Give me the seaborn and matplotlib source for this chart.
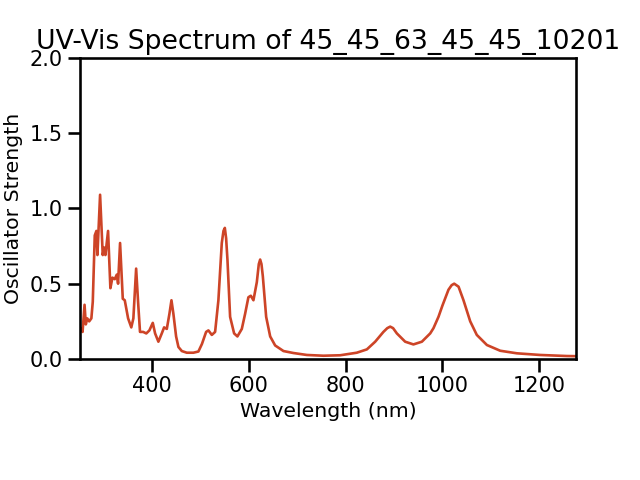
import numpy as np
import pandas as pd
import matplotlib
matplotlib.use("Agg")
import matplotlib.pyplot as plt
import seaborn as sns

wavelength = [251, 253.5, 256.3, 260.4, 263, 266, 270, 274.5, 277.4, 281.5, 284.9, 287,
              292.5, 298, 300.8, 303.5, 309, 313.8, 318, 322.8, 327, 329.7, 333.8,
              339.4, 343.5, 350.4, 357, 361.3, 367, 371, 375, 381.4, 388, 394.4, 401.4,
              406.2, 413, 420, 424.8, 430.4, 435.8, 440, 444, 449.6, 454.4, 461.4, 471.7,
              485.4, 495.7, 503, 511.6, 516.4, 523.4, 530.2, 537, 544, 547.5, 550.3, 553,
              555.7, 561.2, 569.5, 576.3, 585.4, 592.2, 599, 604, 609.4, 616.4, 620.5,
              623.3, 626, 628.8, 635.7, 644, 654.3, 671.5, 692, 719.8, 754, 788.6, 823,
              843.8, 861, 878, 886, 892, 898, 905.8, 923, 940, 957.5, 974.7, 981.5, 991.8,
              1000, 1012.5, 1019, 1024.3, 1033.3, 1043.5, 1057.4, 1071, 1091.9, 1119.4,
              1153.9, 1202, 1257, 1276]
strength = [0.21, 0.20, 0.18, 0.36, 0.23, 0.27, 0.25, 0.27, 0.38, 0.82, 0.85, 0.69,
            1.09, 0.69, 0.74, 0.69, 0.85, 0.47, 0.54, 0.53, 0.56, 0.50, 0.77,
            0.40, 0.39, 0.27, 0.21, 0.27, 0.60, 0.38, 0.18, 0.18, 0.17, 0.19, 0.24,
            0.17, 0.115, 0.17, 0.21, 0.20, 0.30, 0.39, 0.30, 0.15, 0.08, 0.053, 0.042,
            0.042, 0.05, 0.10, 0.18, 0.19, 0.16, 0.18, 0.39, 0.77, 0.85, 0.87, 0.80,
            0.66, 0.28, 0.17, 0.15, 0.20, 0.30, 0.41, 0.42, 0.39, 0.51, 0.63,
            0.66, 0.63, 0.55, 0.28, 0.15, 0.09, 0.053, 0.04, 0.027, 0.022, 0.025, 0.042,
            0.064, 0.115, 0.18, 0.205, 0.215, 0.205, 0.17, 0.115, 0.097, 0.115, 0.17, 0.205,
            0.28, 0.355, 0.46, 0.49, 0.50, 0.48, 0.39, 0.25, 0.16, 0.093, 0.055,
            0.038, 0.027, 0.02, 0.019]

df = pd.DataFrame({"Wavelength (nm)": wavelength, "Oscillator Strength": strength})

sns.set_theme(context="talk", style="ticks")
plt.rcParams.update({
    "text.color": "black", "axes.labelcolor": "black",
    "xtick.color": "black", "ytick.color": "black", "axes.edgecolor": "black",
    "xtick.labelsize": 15, "ytick.labelsize": 15, "axes.labelsize": 14.7,
})
fig, ax = plt.subplots(figsize=(6.4, 4.8), dpi=100)
fig.subplots_adjust(left=0.125, right=0.9, top=0.88, bottom=0.252)
sns.lineplot(data=df, x="Wavelength (nm)", y="Oscillator Strength", ax=ax,
             color="#cd4427", linewidth=1.9)
ax.set_xlim(251, 1276)
ax.set_ylim(0, 2.0)
ax.set_yticks([0.0, 0.5, 1.0, 1.5, 2.0])
ax.set_xticks([400, 600, 800, 1000, 1200])
ax.yaxis.set_label_coords(-0.115, 0.5)
ax.set_title("UV-Vis Spectrum of 45_45_63_45_45_10201", fontsize=19.2)
fig.savefig("out.png", dpi=100)
